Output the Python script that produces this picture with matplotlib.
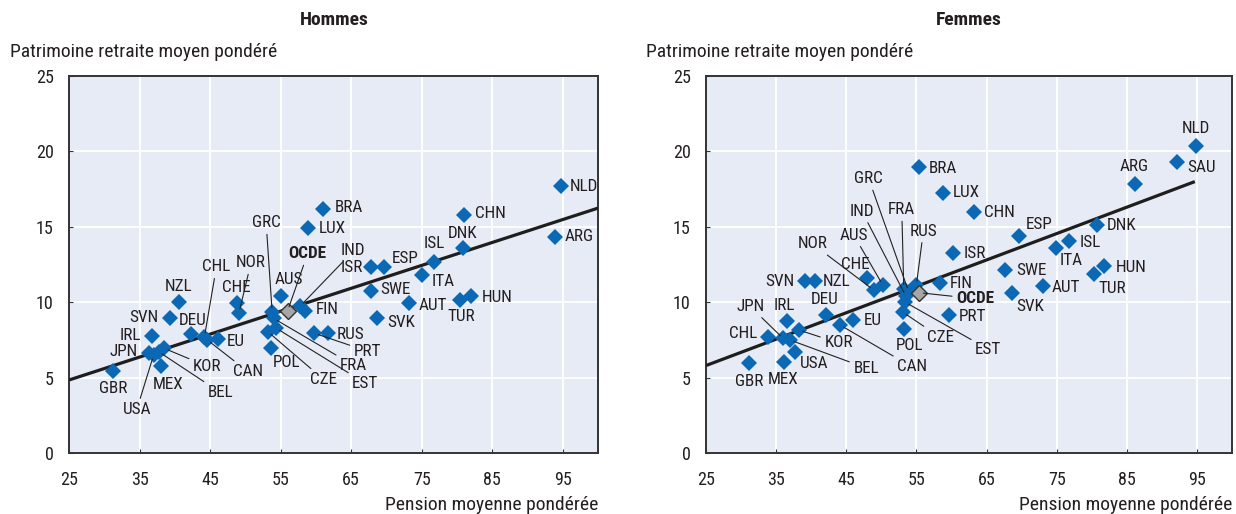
import matplotlib
matplotlib.use("Agg")
import matplotlib.pyplot as plt

plt.rcParams['font.family'] = ['Roboto Condensed', 'DejaVu Sans']

# --- data: Hommes ---
codes_h = ["GBR", "JPN", "IRL", "SVN", "NZL", "DEU", "CHL", "CAN", "EU", "KOR",
           "BEL", "USA", "MEX", "CHE", "NOR", "GRC", "AUS", "IND", "FIN", "POL",
           "CZE", "EST", "FRA", "PRT", "RUS", "BRA", "LUX", "ISR", "ESP", "SWE",
           "SVK", "AUT", "ITA", "ISL", "DNK", "CHN", "TUR", "HUN", "ARG", "NLD"]
pension_h = [31.2, 36.3, 36.7, 39.3, 40.6, 42.3, 44.2, 44.6, 46.1, 38.5,
             37.7, 37.0, 38.1, 48.8, 49.1, 53.8, 55.0, 57.8, 58.5, 53.6,
             53.2, 54.4, 54.0, 59.8, 61.7, 61.0, 58.9, 67.8, 69.7, 67.8,
             68.7, 73.2, 75.1, 76.8, 80.8, 81.0, 80.4, 82.0, 93.9, 94.7]
wealth_h = [5.46, 6.65, 7.78, 8.97, 10.0, 7.87, 7.7, 7.5, 7.56, 6.94,
            6.72, 6.5, 5.75, 9.97, 9.3, 9.37, 10.43, 9.75, 9.42, 6.94,
            8.04, 8.27, 8.93, 7.94, 7.94, 16.16, 14.94, 12.31, 12.31, 10.74,
            8.97, 9.92, 11.82, 12.67, 13.57, 15.8, 10.15, 10.41, 14.35, 17.7]
oecd_h = (56.0, 9.44)
trend_h = (4.84, 0.152)   # value at 25, slope
trend_h_range = (25, 100)

# --- data: Femmes ---
codes_f = ["GBR", "MEX", "CHL", "JPN", "IRL", "KOR", "USA", "BEL", "SVN", "NZL",
           "DEU", "CAN", "EU", "NOR", "CHE", "AUS", "IND", "GRC", "FRA", "RUS",
           "FIN", "PRT", "CZE", "POL", "EST", "BRA", "LUX", "CHN", "ISR", "ESP",
           "SWE", "SVK", "AUT", "ITA", "ISL", "DNK", "HUN", "TUR", "ARG", "SAU", "NLD"]
pension_f = [31.1, 36.1, 33.9, 36.0, 36.5, 38.2, 37.7, 37.0, 39.1, 40.5,
             42.1, 44.1, 45.9, 48.9, 47.9, 50.2, 53.5, 53.9, 53.2, 55.0,
             58.3, 59.6, 53.1, 53.2, 53.4, 55.3, 58.8, 63.2, 60.2, 69.7,
             67.6, 68.6, 73.1, 74.9, 76.8, 80.7, 81.8, 80.3, 86.2, 92.2, 94.8]
wealth_f = [5.95, 6.06, 7.71, 7.6, 8.77, 8.16, 6.68, 7.49, 11.4, 11.4,
            9.15, 8.49, 8.82, 10.81, 11.58, 11.14, 10.4, 10.7, 10.9, 11.14,
            11.25, 9.15, 9.33, 8.22, 10.0, 18.99, 17.26, 15.96, 13.24, 14.39,
            12.14, 10.59, 11.07, 13.57, 14.06, 15.12, 12.4, 11.87, 17.84, 19.28, 20.36]
oecd_f = (55.4, 10.63)
trend_f = (5.8, 0.175)
trend_f_range = (25, 94.7)

# label placement: (dx, dy) in pixels (dy downwards), alignment, leader line
lab_h = {
    "GBR": (0, 18, "center", False), "JPN": (-11, -1, "right", False),
    "IRL": (-11, 0, "right", False), "SVN": (-11, 0, "right", False),
    "NZL": (0, -16, "center", False), "DEU": (2, -14, "center", False),
    "CHL": (12, -70, "center", True), "CAN": (41, 32, "center", True),
    "EU": (9, 3, "left", False), "KOR": (43, 18, "center", True),
    "BEL": (62, 41, "center", True), "USA": (-17, 55, "center", True),
    "MEX": (7, 18, "center", False), "CHE": (-1, -15, "center", False),
    "NOR": (12, -50, "center", True), "GRC": (-6, -89, "center", True),
    "AUS": (8, -16, "center", False), "IND": (53, -55, "center", True),
    "FIN": (10, -1, "left", False), "POL": (16, 14, "center", False),
    "CZE": (56, 48, "center", True), "EST": (89, 55, "center", True),
    "FRA": (80, 47, "center", True), "PRT": (53, 18, "center", True),
    "RUS": (9, 1, "left", False), "BRA": (12, -2, "left", False),
    "LUX": (11, 1, "left", False), "ISR": (-8, 0, "right", False),
    "ESP": (7, -9, "left", False), "SWE": (9, -2, "left", False),
    "SVK": (10, 5, "left", False), "AUT": (10, 2, "left", False),
    "ITA": (9, 7, "left", False), "ISL": (0, -18, "center", False),
    "DNK": (0, -15, "center", False), "CHN": (11, -1, "left", False),
    "TUR": (1, 17, "center", False), "HUN": (11, 1, "left", False),
    "ARG": (10, 0, "left", False), "NLD": (9, 0, "left", False),
    "OCDE": (20, -57, "center", True),
}
lab_f = {
    "GBR": (0, 18, "center", False), "MEX": (-1, 18, "center", False),
    "CHL": (-11, -3, "right", False), "JPN": (-33, -32, "center", True),
    "IRL": (-2, -15, "center", False), "KOR": (40, 13, "center", True),
    "USA": (19, 11, "center", False), "BEL": (76, 28, "center", True),
    "SVN": (-10, 0, "right", False), "NZL": (8, 0, "left", False),
    "DEU": (-1, -16, "center", False), "CAN": (72, 42, "center", True),
    "EU": (11, 1, "left", False), "NOR": (-61, -46, "center", True),
    "CHE": (-11, -14, "center", False), "AUS": (-29, -50, "center", True),
    "IND": (-44, -85, "center", True), "GRC": (-40, -113, "center", True),
    "FRA": (-2, -79, "center", True), "RUS": (7, -54, "center", True),
    "FIN": (10, 0, "left", False), "PRT": (10, 1, "left", False),
    "CZE": (37, 25, "center", True), "POL": (6, 16, "center", False),
    "EST": (83, 47, "center", True), "BRA": (10, 2, "left", False),
    "LUX": (10, 0, "left", False), "CHN": (10, 0, "left", False),
    "ISR": (11, 0, "left", False), "ESP": (6, -11, "left", False),
    "SWE": (11, 1, "left", False), "SVK": (4, 13, "left", False),
    "AUT": (8, 1, "left", False), "ITA": (15, 12, "center", False),
    "ISL": (10, 2, "left", False), "DNK": (10, 1, "left", False),
    "HUN": (11, 1, "left", False), "TUR": (18, 14, "center", False),
    "ARG": (-1, -17, "center", False), "SAU": (10, 5, "left", False),
    "NLD": (0, -17, "center", False), "OCDE": (37, 6, "left", True),
}

BLUE = "#0A68B4"
TXT = "#231F20"
BG = "#E7EBF6"


def draw_panel(ax, codes, xs, ys, oecd, trend, trange, labels):
    ax.set_facecolor(BG)
    ax.set_xlim(25, 100)
    ax.set_ylim(0, 25)
    ax.set_xticks(range(25, 100, 10))
    ax.set_yticks(range(0, 26, 5))
    ax.grid(True, color="white", lw=1.3)
    ax.set_axisbelow(True)
    for s in ax.spines.values():
        s.set_color("#333333")
        s.set_linewidth(1.4)
    ax.tick_params(axis="x", direction="in", length=3, pad=13, labelsize=13,
                   colors="#333333", labelcolor=TXT)
    ax.tick_params(axis="y", direction="in", length=3, pad=11, labelsize=13,
                   colors="#333333", labelcolor=TXT)

    # trend line
    x0, x1 = trange
    ax.plot([x0, x1], [trend[0], trend[0] + trend[1] * (x1 - x0)],
            color="#1E1E1E", lw=2.3, zorder=3, solid_capstyle="butt")

    ax.plot(xs, ys, "D", ms=8.3, color=BLUE, mew=0, zorder=4)
    ax.plot([oecd[0]], [oecd[1]], "D", ms=8, mfc="#A6A6A6", mec="#333333",
            mew=1, zorder=5)

    pts = list(zip(codes, xs, ys)) + [("OCDE", oecd[0], oecd[1])]
    for code, x, y in pts:
        dx, dy, ha, leader = labels[code]
        kw = dict(xy=(x, y), xytext=(dx, -dy), textcoords="offset pixels",
                  ha=ha, va="center", fontsize=12.3, color=TXT, zorder=6)
        if code == "OCDE":
            kw["fontweight"] = "bold"
        if leader:
            kw["arrowprops"] = dict(arrowstyle="-", color="#222222", lw=0.8,
                                    shrinkA=1, shrinkB=3)
        ax.annotate(code, **kw)


fig = plt.figure(figsize=(12.36, 5.14), dpi=100)
ax1 = fig.add_axes([69 / 1236, 1 - 453 / 514, 529 / 1236, 377 / 514])
ax2 = fig.add_axes([706 / 1236, 1 - 453 / 514, 526 / 1236, 377 / 514])

draw_panel(ax1, codes_h, pension_h, wealth_h, oecd_h, trend_h, trend_h_range, lab_h)
draw_panel(ax2, codes_f, pension_f, wealth_f, oecd_f, trend_f, trend_f_range, lab_f)

# titles and axis captions
fig.text(334 / 1236, 1 - 20 / 514, "Hommes", ha="center", va="center",
         fontsize=14, fontweight="bold", color=TXT)
fig.text(969 / 1236, 1 - 20 / 514, "Femmes", ha="center", va="center",
         fontsize=14, fontweight="bold", color=TXT)
for xl, xr in [(10, 598), (646, 1232)]:
    fig.text(xl / 1236, 1 - 52 / 514, "Patrimoine retraite moyen pondéré",
             ha="left", va="center", fontsize=14, color=TXT)
    fig.text(xr / 1236, 1 - 505 / 514, "Pension moyenne pondérée",
             ha="right", va="center", fontsize=14, color=TXT)

fig.savefig("out.png", dpi=100, facecolor="white")
